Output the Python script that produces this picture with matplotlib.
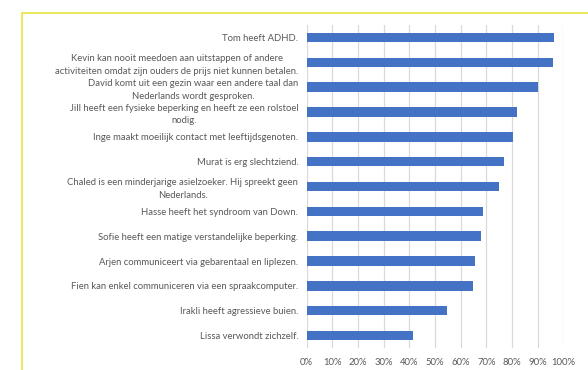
import numpy as np
import matplotlib
matplotlib.use("Agg")
import matplotlib.pyplot as plt
from matplotlib.patches import Rectangle

# data, top to bottom
labels = [
    "Tom heeft ADHD.",
    "Kevin kan nooit meedoen aan uitstappen of andere\nactiviteiten omdat zijn ouders de prijs niet kunnen betalen.",
    "David komt uit een gezin waar een andere taal dan\nNederlands wordt gesproken.",
    "Jill heeft een fysieke beperking en heeft ze een rolstoel\nnodig.",
    "Inge maakt moeilijk contact met leeftijdsgenoten.",
    "Murat is erg slechtziend.",
    "Chaled is een minderjarige asielzoeker. Hij spreekt geen\nNederlands.",
    "Hasse heeft het syndroom van Down.",
    "Sofie heeft een matige verstandelijke beperking.",
    "Arjen communiceert via gebarentaal en liplezen.",
    "Fien kan enkel communiceren via een spraakcomputer.",
    "Irakli heeft agressieve buien.",
    "Lissa verwondt zichzelf.",
]
values = [96.4, 95.9, 90.3, 82.0, 80.4, 76.9, 74.8, 68.7, 68.1, 65.6, 64.7, 54.8, 41.6]
xticks = list(range(0, 101, 10))

plt.rcParams['font.family'] = ['Lato', 'DejaVu Sans']
grey = '#595959'

fig = plt.figure(figsize=(5.88, 3.70), dpi=100)
ax = fig.add_axes([0.5216, 0.0595, 0.4364, 0.8729])

y = np.arange(len(labels))
ax.barh(y, values, height=0.38, color='#4472C4', zorder=3)
ax.set_ylim(len(labels) - 0.5, -0.5)
ax.set_xlim(0, 100)
ax.set_yticks(y)
ax.set_yticklabels(labels, fontsize=6.8, color=grey, linespacing=1.5,
                   multialignment='center')
ax.set_xticks(xticks)
ax.set_xticklabels(["%d%%" % t for t in xticks], fontsize=6.8, color=grey)
ax.tick_params(axis='y', length=0, pad=6)
ax.tick_params(axis='x', length=0, pad=7)
ax.grid(axis='x', color='#D9D9D9', linewidth=0.9, zorder=0)
for s in ax.spines.values():
    s.set_visible(False)

# yellow frame (cropped on the right and bottom)
frame = Rectangle((22 / 588, -0.1), 1.2, (370 - 13) / 370 + 0.1,
                  transform=fig.transFigure, fill=False,
                  edgecolor='#E8E43C', linewidth=1.2, clip_on=False)
fig.patches.append(frame)

fig.savefig("out.png", dpi=100)
